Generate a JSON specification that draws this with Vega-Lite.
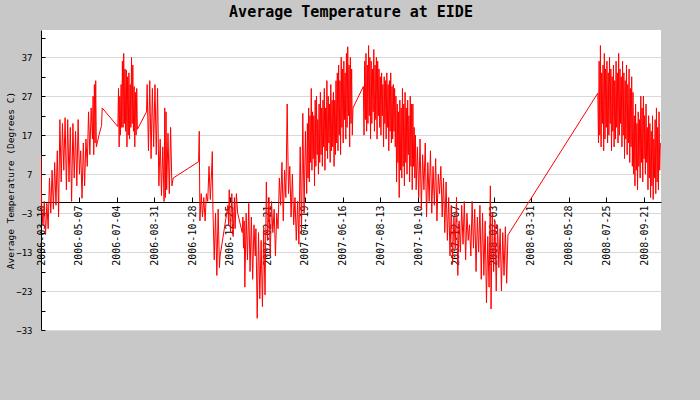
{
  "$schema": "https://vega.github.io/schema/vega-lite/v6.json",
  "width": 620,
  "height": 300,
  "autosize": {"type": "none"},
  "padding": {"left": 41, "top": 30, "right": 39, "bottom": 70},
  "background": "#c8c8c8",
  "view": {"fill": "white", "stroke": null},
  "title": {"text": "Average Temperature at EIDE", "font": "DejaVu Sans Mono", "fontSize": 15, "fontWeight": "bold", "color": "black", "anchor": "middle", "offset": 10},
  "data": {"values": [
    {"date":"2006-03-10","temp":12},{"date":"2006-03-11","temp":-1},{"date":"2006-03-13","temp":-6},{"date":"2006-03-15","temp":0},{"date":"2006-03-17","temp":-8.5},{"date":"2006-03-19","temp":-0.5},{"date":"2006-03-21","temp":-7},{"date":"2006-03-23","temp":6},{"date":"2006-03-25","temp":-3},{"date":"2006-03-27","temp":8},{"date":"2006-03-29","temp":-2},{"date":"2006-03-31","temp":10},
    {"date":"2006-04-02","temp":-1},{"date":"2006-04-04","temp":13},{"date":"2006-04-06","temp":-4},{"date":"2006-04-08","temp":21},{"date":"2006-04-10","temp":5},{"date":"2006-04-12","temp":20},{"date":"2006-04-14","temp":8},{"date":"2006-04-16","temp":21.5},{"date":"2006-04-18","temp":3},{"date":"2006-04-20","temp":21},{"date":"2006-04-22","temp":5},{"date":"2006-04-24","temp":19},{"date":"2006-04-26","temp":0},{"date":"2006-04-28","temp":20},{"date":"2006-04-30","temp":6},
    {"date":"2006-05-02","temp":18},{"date":"2006-05-04","temp":4},{"date":"2006-05-06","temp":21},{"date":"2006-05-08","temp":7},{"date":"2006-05-10","temp":13},{"date":"2006-05-12","temp":0.8},{"date":"2006-05-14","temp":15},{"date":"2006-05-16","temp":4},{"date":"2006-05-18","temp":16},{"date":"2006-05-20","temp":9},{"date":"2006-05-22","temp":23},{"date":"2006-05-24","temp":12},{"date":"2006-05-26","temp":24},{"date":"2006-05-28","temp":16},{"date":"2006-05-29","temp":27},{"date":"2006-05-30","temp":12},{"date":"2006-05-31","temp":30},
    {"date":"2006-06-01","temp":15},{"date":"2006-06-02","temp":31},{"date":"2006-06-03","temp":14},{"date":"2006-06-07","temp":17},{"date":"2006-06-11","temp":19.5},{"date":"2006-06-12","temp":24},
    {"date":"2006-07-06","temp":19.2},{"date":"2006-07-07","temp":29},{"date":"2006-07-08","temp":14},{"date":"2006-07-09","temp":27},{"date":"2006-07-10","temp":17},{"date":"2006-07-11","temp":30},{"date":"2006-07-12","temp":19},{"date":"2006-07-13","temp":36},{"date":"2006-07-14","temp":19},{"date":"2006-07-15","temp":38},{"date":"2006-07-16","temp":20},{"date":"2006-07-17","temp":34},{"date":"2006-07-18","temp":18},{"date":"2006-07-19","temp":33.7},{"date":"2006-07-20","temp":14},{"date":"2006-07-21","temp":32},{"date":"2006-07-22","temp":17},{"date":"2006-07-23","temp":33},{"date":"2006-07-24","temp":16},{"date":"2006-07-25","temp":30},{"date":"2006-07-26","temp":19},{"date":"2006-07-27","temp":37},{"date":"2006-07-28","temp":20},{"date":"2006-07-29","temp":35},{"date":"2006-07-30","temp":18},{"date":"2006-07-31","temp":29.5},
    {"date":"2006-08-01","temp":14},{"date":"2006-08-02","temp":28},{"date":"2006-08-03","temp":17},{"date":"2006-08-04","temp":29},{"date":"2006-08-05","temp":18.5},{"date":"2006-08-19","temp":23},{"date":"2006-08-20","temp":30},{"date":"2006-08-22","temp":13},{"date":"2006-08-24","temp":31},{"date":"2006-08-26","temp":11},{"date":"2006-08-28","temp":29},{"date":"2006-08-30","temp":14},
    {"date":"2006-09-01","temp":30},{"date":"2006-09-03","temp":12},{"date":"2006-09-05","temp":29},{"date":"2006-09-07","temp":4},{"date":"2006-09-09","temp":16},{"date":"2006-09-11","temp":1.5},{"date":"2006-09-13","temp":14},{"date":"2006-09-15","temp":0},{"date":"2006-09-16","temp":24},{"date":"2006-09-17","temp":1},{"date":"2006-09-18","temp":23},{"date":"2006-09-19","temp":3},{"date":"2006-09-21","temp":17.5},{"date":"2006-09-23","temp":2},{"date":"2006-09-25","temp":19},{"date":"2006-09-27","temp":4},{"date":"2006-09-29","temp":6},
    {"date":"2006-11-07","temp":10.2},{"date":"2006-11-08","temp":18},{"date":"2006-11-09","temp":-5},{"date":"2006-11-11","temp":2},{"date":"2006-11-13","temp":-4},{"date":"2006-11-15","temp":1},{"date":"2006-11-17","temp":-5},{"date":"2006-11-19","temp":2},{"date":"2006-11-21","temp":0},{"date":"2006-11-23","temp":9},{"date":"2006-11-25","temp":0.5},{"date":"2006-11-27","temp":8},{"date":"2006-11-28","temp":12.8},{"date":"2006-11-29","temp":-2},
    {"date":"2006-12-01","temp":-15},{"date":"2006-12-03","temp":-3},{"date":"2006-12-05","temp":-19},{"date":"2006-12-07","temp":-2},{"date":"2006-12-09","temp":-17},{"date":"2006-12-10","temp":-14},{"date":"2006-12-22","temp":-1},{"date":"2006-12-23","temp":-6},{"date":"2006-12-24","temp":3},{"date":"2006-12-26","temp":-8},{"date":"2006-12-28","temp":2},{"date":"2006-12-30","temp":-9},
    {"date":"2007-01-01","temp":1},{"date":"2007-01-02","temp":-7},{"date":"2007-01-04","temp":2},{"date":"2007-01-06","temp":-3},{"date":"2007-01-13","temp":-8},{"date":"2007-01-14","temp":-4},{"date":"2007-01-15","temp":-12},{"date":"2007-01-16","temp":-5},{"date":"2007-01-17","temp":-22},{"date":"2007-01-19","temp":-3},{"date":"2007-01-21","temp":-15},{"date":"2007-01-23","temp":-0.5},{"date":"2007-01-25","temp":-18},{"date":"2007-01-27","temp":-4},{"date":"2007-01-29","temp":-20},{"date":"2007-01-31","temp":-6},
    {"date":"2007-02-02","temp":-14},{"date":"2007-02-03","temp":-7},{"date":"2007-02-05","temp":-30},{"date":"2007-02-07","temp":-8},{"date":"2007-02-09","temp":-25},{"date":"2007-02-11","temp":-10},{"date":"2007-02-13","temp":-27},{"date":"2007-02-15","temp":-7},{"date":"2007-02-17","temp":-24},{"date":"2007-02-19","temp":5},{"date":"2007-02-21","temp":-10},{"date":"2007-02-23","temp":1},{"date":"2007-02-25","temp":-14},{"date":"2007-02-27","temp":0},
    {"date":"2007-03-01","temp":-8},{"date":"2007-03-03","temp":-2},{"date":"2007-03-05","temp":-14},{"date":"2007-03-07","temp":-3},{"date":"2007-03-09","temp":-7},{"date":"2007-03-11","temp":6},{"date":"2007-03-13","temp":-1},{"date":"2007-03-15","temp":10},{"date":"2007-03-17","temp":-5},{"date":"2007-03-19","temp":8},{"date":"2007-03-21","temp":1},{"date":"2007-03-23","temp":25},{"date":"2007-03-25","temp":2},{"date":"2007-03-27","temp":9},{"date":"2007-03-29","temp":-4},{"date":"2007-03-31","temp":7},
    {"date":"2007-04-02","temp":-6},{"date":"2007-04-04","temp":1},{"date":"2007-04-06","temp":-10},{"date":"2007-04-08","temp":0},{"date":"2007-04-10","temp":-11},{"date":"2007-04-12","temp":14},{"date":"2007-04-14","temp":-8},{"date":"2007-04-16","temp":22.6},{"date":"2007-04-18","temp":-3},{"date":"2007-04-20","temp":18},
    {"date":"2007-04-22","temp":2},{"date":"2007-04-23","temp":20},{"date":"2007-04-24","temp":6},{"date":"2007-04-25","temp":24},{"date":"2007-04-26","temp":5},{"date":"2007-04-27","temp":22},{"date":"2007-04-28","temp":10},{"date":"2007-04-29","temp":29},{"date":"2007-04-30","temp":8},
    {"date":"2007-05-01","temp":23},{"date":"2007-05-02","temp":11},{"date":"2007-05-03","temp":22},{"date":"2007-05-04","temp":4},{"date":"2007-05-05","temp":26},{"date":"2007-05-06","temp":9},{"date":"2007-05-07","temp":27},{"date":"2007-05-08","temp":12},{"date":"2007-05-09","temp":21},{"date":"2007-05-10","temp":7},{"date":"2007-05-11","temp":25},{"date":"2007-05-12","temp":10},{"date":"2007-05-13","temp":28},{"date":"2007-05-14","temp":12},{"date":"2007-05-15","temp":24},{"date":"2007-05-16","temp":9},{"date":"2007-05-17","temp":26},{"date":"2007-05-18","temp":14},{"date":"2007-05-19","temp":29},{"date":"2007-05-20","temp":8},{"date":"2007-05-21","temp":24},{"date":"2007-05-22","temp":13},{"date":"2007-05-23","temp":31},{"date":"2007-05-24","temp":11},{"date":"2007-05-25","temp":27},{"date":"2007-05-26","temp":15},{"date":"2007-05-27","temp":25},{"date":"2007-05-28","temp":10},{"date":"2007-05-29","temp":30},{"date":"2007-05-30","temp":13},{"date":"2007-05-31","temp":26},
    {"date":"2007-06-01","temp":14},{"date":"2007-06-02","temp":28},{"date":"2007-06-03","temp":9},{"date":"2007-06-04","temp":26},{"date":"2007-06-05","temp":12},{"date":"2007-06-06","temp":31},{"date":"2007-06-07","temp":15},{"date":"2007-06-08","temp":33},{"date":"2007-06-09","temp":13},{"date":"2007-06-10","temp":35},{"date":"2007-06-11","temp":17},{"date":"2007-06-12","temp":31},{"date":"2007-06-13","temp":12},{"date":"2007-06-14","temp":37},{"date":"2007-06-15","temp":19},{"date":"2007-06-16","temp":34},{"date":"2007-06-17","temp":15},{"date":"2007-06-18","temp":36},{"date":"2007-06-19","temp":21},{"date":"2007-06-20","temp":33},{"date":"2007-06-21","temp":16},{"date":"2007-06-22","temp":38},{"date":"2007-06-23","temp":19},{"date":"2007-06-24","temp":39.7},{"date":"2007-06-25","temp":22},{"date":"2007-06-26","temp":35},{"date":"2007-06-27","temp":14},{"date":"2007-06-28","temp":37},{"date":"2007-06-29","temp":20},{"date":"2007-06-30","temp":34},
    {"date":"2007-07-01","temp":17},{"date":"2007-07-02","temp":24},{"date":"2007-07-18","temp":29.5},{"date":"2007-07-19","temp":17},{"date":"2007-07-20","temp":36},{"date":"2007-07-21","temp":21},{"date":"2007-07-22","temp":38},{"date":"2007-07-23","temp":18},{"date":"2007-07-24","temp":35},{"date":"2007-07-25","temp":20},{"date":"2007-07-26","temp":40},{"date":"2007-07-27","temp":22},{"date":"2007-07-28","temp":37},{"date":"2007-07-29","temp":16},{"date":"2007-07-30","temp":36},{"date":"2007-07-31","temp":20},
    {"date":"2007-08-01","temp":34},{"date":"2007-08-02","temp":23},{"date":"2007-08-03","temp":39},{"date":"2007-08-04","temp":18},{"date":"2007-08-05","temp":35},{"date":"2007-08-06","temp":21},{"date":"2007-08-07","temp":37},{"date":"2007-08-08","temp":16},{"date":"2007-08-09","temp":36},{"date":"2007-08-10","temp":22},{"date":"2007-08-11","temp":34},{"date":"2007-08-12","temp":19},{"date":"2007-08-13","temp":32},{"date":"2007-08-14","temp":17},{"date":"2007-08-15","temp":33},{"date":"2007-08-16","temp":22},{"date":"2007-08-17","temp":30},{"date":"2007-08-18","temp":14},{"date":"2007-08-19","temp":32},{"date":"2007-08-20","temp":20},{"date":"2007-08-21","temp":31},{"date":"2007-08-22","temp":16},{"date":"2007-08-23","temp":33},{"date":"2007-08-24","temp":19},{"date":"2007-08-25","temp":30},{"date":"2007-08-26","temp":13},{"date":"2007-08-27","temp":31},{"date":"2007-08-28","temp":18},{"date":"2007-08-29","temp":33},{"date":"2007-08-30","temp":15},{"date":"2007-08-31","temp":29.5},
    {"date":"2007-09-01","temp":16},{"date":"2007-09-02","temp":30},{"date":"2007-09-03","temp":18},{"date":"2007-09-04","temp":29},{"date":"2007-09-05","temp":14},{"date":"2007-09-06","temp":27},{"date":"2007-09-07","temp":5},{"date":"2007-09-08","temp":25},{"date":"2007-09-09","temp":10},{"date":"2007-09-10","temp":23},{"date":"2007-09-11","temp":1},{"date":"2007-09-12","temp":26},{"date":"2007-09-13","temp":8},{"date":"2007-09-14","temp":24},{"date":"2007-09-15","temp":6},{"date":"2007-09-16","temp":29},{"date":"2007-09-17","temp":9},{"date":"2007-09-18","temp":25},{"date":"2007-09-19","temp":4},{"date":"2007-09-20","temp":28},{"date":"2007-09-21","temp":10},{"date":"2007-09-22","temp":24},{"date":"2007-09-23","temp":7},{"date":"2007-09-24","temp":26},{"date":"2007-09-25","temp":12},{"date":"2007-09-26","temp":22},{"date":"2007-09-27","temp":5},{"date":"2007-09-28","temp":27},{"date":"2007-09-29","temp":9},{"date":"2007-09-30","temp":25},
    {"date":"2007-10-01","temp":3},{"date":"2007-10-02","temp":25},{"date":"2007-10-03","temp":9},{"date":"2007-10-04","temp":19},{"date":"2007-10-05","temp":6},{"date":"2007-10-06","temp":17},{"date":"2007-10-07","temp":3},{"date":"2007-10-09","temp":14},{"date":"2007-10-11","temp":1},{"date":"2007-10-13","temp":16},{"date":"2007-10-15","temp":-2},{"date":"2007-10-17","temp":12},{"date":"2007-10-19","temp":3},{"date":"2007-10-21","temp":15},{"date":"2007-10-23","temp":-4},{"date":"2007-10-25","temp":10},{"date":"2007-10-27","temp":0},{"date":"2007-10-29","temp":13},{"date":"2007-10-31","temp":-3},
    {"date":"2007-11-02","temp":9},{"date":"2007-11-04","temp":-1},{"date":"2007-11-06","temp":11},{"date":"2007-11-08","temp":-5},{"date":"2007-11-10","temp":7},{"date":"2007-11-12","temp":2},{"date":"2007-11-14","temp":9},{"date":"2007-11-16","temp":-4},{"date":"2007-11-18","temp":6},{"date":"2007-11-20","temp":-8},{"date":"2007-11-22","temp":5},{"date":"2007-11-24","temp":-10},{"date":"2007-11-26","temp":1},{"date":"2007-11-28","temp":-14},{"date":"2007-11-30","temp":-1},
    {"date":"2007-12-02","temp":-16},{"date":"2007-12-04","temp":-4},{"date":"2007-12-06","temp":-12},{"date":"2007-12-08","temp":1},{"date":"2007-12-10","temp":-19},{"date":"2007-12-12","temp":-5},{"date":"2007-12-14","temp":-13},{"date":"2007-12-16","temp":-1},{"date":"2007-12-18","temp":-11},{"date":"2007-12-20","temp":0},{"date":"2007-12-22","temp":-15},{"date":"2007-12-24","temp":-3},{"date":"2007-12-26","temp":-10},{"date":"2007-12-28","temp":-6},{"date":"2007-12-30","temp":-14},
    {"date":"2008-01-01","temp":0},{"date":"2008-01-03","temp":-12},{"date":"2008-01-05","temp":-2},{"date":"2008-01-07","temp":-18},{"date":"2008-01-09","temp":-4},{"date":"2008-01-11","temp":-13},{"date":"2008-01-13","temp":-1},{"date":"2008-01-15","temp":-20},{"date":"2008-01-17","temp":-3},{"date":"2008-01-19","temp":-19},{"date":"2008-01-21","temp":-5},{"date":"2008-01-23","temp":-26},{"date":"2008-01-25","temp":-9},{"date":"2008-01-27","temp":-22},{"date":"2008-01-29","temp":4},{"date":"2008-01-30","temp":-27.6},
    {"date":"2008-02-01","temp":-3},{"date":"2008-02-03","temp":-18},{"date":"2008-02-05","temp":-5},{"date":"2008-02-07","temp":-23},{"date":"2008-02-09","temp":-6},{"date":"2008-02-11","temp":-17},{"date":"2008-02-13","temp":-7},{"date":"2008-02-15","temp":-23},{"date":"2008-02-17","temp":-8},{"date":"2008-02-19","temp":-19},{"date":"2008-02-21","temp":-6.5},{"date":"2008-02-23","temp":-21},{"date":"2008-02-25","temp":-8.6},
    {"date":"2008-07-12","temp":27.8},{"date":"2008-07-13","temp":15},{"date":"2008-07-14","temp":36},{"date":"2008-07-15","temp":17},{"date":"2008-07-16","temp":40},{"date":"2008-07-17","temp":14},{"date":"2008-07-18","temp":33},{"date":"2008-07-19","temp":20},{"date":"2008-07-20","temp":35},{"date":"2008-07-21","temp":13},{"date":"2008-07-22","temp":38},{"date":"2008-07-23","temp":16},{"date":"2008-07-24","temp":34},{"date":"2008-07-25","temp":19},{"date":"2008-07-26","temp":36},{"date":"2008-07-27","temp":15},{"date":"2008-07-28","temp":33},{"date":"2008-07-29","temp":17},{"date":"2008-07-30","temp":37},{"date":"2008-07-31","temp":20},
    {"date":"2008-08-01","temp":34},{"date":"2008-08-02","temp":13},{"date":"2008-08-03","temp":32},{"date":"2008-08-04","temp":18},{"date":"2008-08-05","temp":35},{"date":"2008-08-06","temp":14},{"date":"2008-08-07","temp":31},{"date":"2008-08-08","temp":16},{"date":"2008-08-09","temp":36},{"date":"2008-08-10","temp":19},{"date":"2008-08-11","temp":33},{"date":"2008-08-12","temp":15},{"date":"2008-08-13","temp":38},{"date":"2008-08-14","temp":17},{"date":"2008-08-15","temp":34},{"date":"2008-08-16","temp":20},{"date":"2008-08-17","temp":32},{"date":"2008-08-18","temp":14},{"date":"2008-08-19","temp":36},{"date":"2008-08-20","temp":17},{"date":"2008-08-21","temp":33},{"date":"2008-08-22","temp":11},{"date":"2008-08-23","temp":31},{"date":"2008-08-24","temp":16},{"date":"2008-08-25","temp":35},{"date":"2008-08-26","temp":12},{"date":"2008-08-27","temp":30},{"date":"2008-08-28","temp":15},{"date":"2008-08-29","temp":34},{"date":"2008-08-30","temp":10},{"date":"2008-08-31","temp":29},
    {"date":"2008-09-01","temp":14},{"date":"2008-09-02","temp":32},{"date":"2008-09-03","temp":9},{"date":"2008-09-04","temp":28},{"date":"2008-09-05","temp":7},{"date":"2008-09-06","temp":22},{"date":"2008-09-07","temp":4},{"date":"2008-09-08","temp":25},{"date":"2008-09-09","temp":8},{"date":"2008-09-10","temp":20},{"date":"2008-09-11","temp":3},{"date":"2008-09-12","temp":23},{"date":"2008-09-13","temp":9},{"date":"2008-09-14","temp":21},{"date":"2008-09-15","temp":6},{"date":"2008-09-16","temp":27},{"date":"2008-09-17","temp":10},{"date":"2008-09-18","temp":24},{"date":"2008-09-19","temp":5},{"date":"2008-09-20","temp":27},{"date":"2008-09-21","temp":11},{"date":"2008-09-22","temp":22},{"date":"2008-09-23","temp":7},{"date":"2008-09-24","temp":25},{"date":"2008-09-25","temp":10},{"date":"2008-09-26","temp":19},{"date":"2008-09-27","temp":3},{"date":"2008-09-28","temp":22},{"date":"2008-09-29","temp":6},{"date":"2008-09-30","temp":20},
    {"date":"2008-10-01","temp":1},{"date":"2008-10-02","temp":18},{"date":"2008-10-03","temp":4},{"date":"2008-10-04","temp":22},{"date":"2008-10-05","temp":0.5},{"date":"2008-10-06","temp":16},{"date":"2008-10-07","temp":6},{"date":"2008-10-08","temp":21},{"date":"2008-10-09","temp":2},{"date":"2008-10-10","temp":24},{"date":"2008-10-11","temp":5},{"date":"2008-10-12","temp":19},{"date":"2008-10-13","temp":3},{"date":"2008-10-14","temp":23},{"date":"2008-10-15","temp":8},{"date":"2008-10-16","temp":15}
  ]},
  "mark": {"type": "line", "color": "#ff0000", "strokeWidth": 1, "clip": true},
  "encoding": {
    "x": {
      "field": "date", "type": "temporal",
      "scale": {"type": "utc", "domain": [{"year": 2006, "month": 3, "date": 10, "utc": true}, {"year": 2008, "month": 10, "date": 17, "utc": true}], "nice": false},
      "axis": {
        "title": null, "orient": "bottom", "offset": -128, "grid": false,
        "values": [
          {"year": 2006, "month": 3, "date": 10, "utc": true},
          {"year": 2006, "month": 5, "date": 7, "utc": true},
          {"year": 2006, "month": 7, "date": 4, "utc": true},
          {"year": 2006, "month": 8, "date": 31, "utc": true},
          {"year": 2006, "month": 10, "date": 28, "utc": true},
          {"year": 2006, "month": 12, "date": 25, "utc": true},
          {"year": 2007, "month": 2, "date": 21, "utc": true},
          {"year": 2007, "month": 4, "date": 19, "utc": true},
          {"year": 2007, "month": 6, "date": 16, "utc": true},
          {"year": 2007, "month": 8, "date": 13, "utc": true},
          {"year": 2007, "month": 10, "date": 10, "utc": true},
          {"year": 2007, "month": 12, "date": 7, "utc": true},
          {"year": 2008, "month": 2, "date": 3, "utc": true},
          {"year": 2008, "month": 3, "date": 31, "utc": true},
          {"year": 2008, "month": 5, "date": 28, "utc": true},
          {"year": 2008, "month": 7, "date": 25, "utc": true},
          {"year": 2008, "month": 9, "date": 21, "utc": true}
        ],
        "labelExpr": "utcFormat(datum.value, '%Y-%m-%d')",
        "labelAngle": -90, "labelPadding": 8, "labelFont": "DejaVu Sans Mono", "labelFontSize": 10, "labelColor": "black",
        "labelOverlap": false, "labelFlush": false, "labelBound": false,
        "tickSize": -5, "tickColor": "black", "domainColor": "black", "domainWidth": 1
      }
    },
    "y": {
      "field": "temp", "type": "quantitative",
      "scale": {"domain": [-33, 44], "nice": false, "zero": false},
      "axis": {
        "title": "Average Temperature (Degrees C)", "titleFont": "DejaVu Sans Mono", "titleFontSize": 9.5, "titleFontWeight": "normal", "titleColor": "black",
        "titleAngle": -90, "titleX": -31, "titleY": 150, "titleAlign": "center", "titleBaseline": "middle",
        "values": [-33, -28, -23, -18, -13, -8, -3, 2, 7, 12, 17, 22, 27, 32, 37, 42],
        "labelExpr": "(datum.value + 33) % 10 === 0 ? datum.label : ''",
        "labelFont": "DejaVu Sans Mono", "labelFontSize": 9, "labelColor": "black", "labelPadding": 13,
        "tickSize": -4, "tickColor": "black", "domainColor": "black",
        "grid": true, "gridColor": "#d9d9d9",
        "gridOpacity": {"condition": {"test": "(datum.value + 33) % 10 === 0", "value": 1}, "value": 0}
      }
    }
  }
}
